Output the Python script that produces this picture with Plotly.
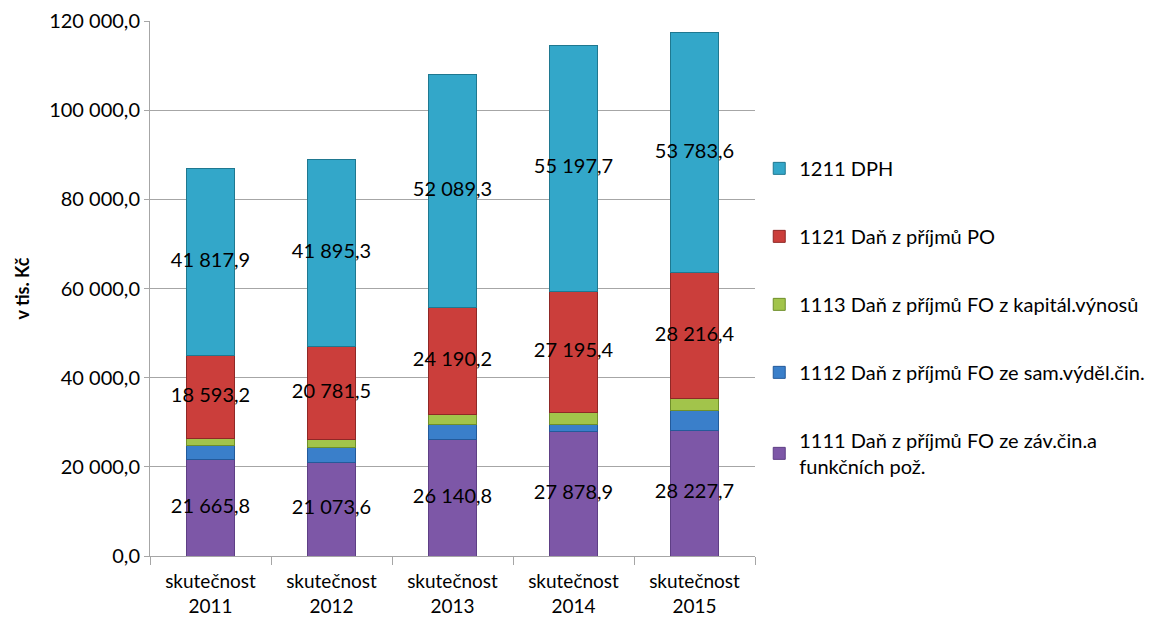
import plotly.graph_objects as go

categories = ["skutečnost<br>2011", "skutečnost<br>2012", "skutečnost<br>2013", "skutečnost<br>2014", "skutečnost<br>2015"]

s1111 = [21665.8, 21073.6, 26140.8, 27878.9, 28227.7]
s1112 = [3100, 3200, 3300, 1700, 4300]
s1113 = [1700, 1900, 2200, 2600, 2800]
s1121 = [18593.2, 20781.5, 24190.2, 27195.4, 28216.4]
s1211 = [41817.9, 41895.3, 52089.3, 55197.7, 53783.6]

names = [
    "1111 Daň z příjmů FO ze záv.čin.a<br>funkčních pož.",
    "1112 Daň z příjmů FO ze sam.výděl.čin.",
    "1113 Daň z příjmů FO z kapitál.výnosů",
    "1121 Daň z příjmů PO",
    "1211 DPH",
]
series = [s1111, s1112, s1113, s1121, s1211]
colors = ["#7D57A7", "#3A7FCA", "#A2C44B", "#CB3E3B", "#33A7C9"]
outlines = ["#5E3F85", "#245A9A", "#6F8F2A", "#8F2826", "#1F7890"]
labelled = [True, False, False, True, True]

FONT = "Lato, 'Open Sans', sans-serif"

fig = go.Figure()
base = [0.0] * len(categories)
for i, (vals, name) in enumerate(zip(series, names)):
    fig.add_trace(go.Bar(
        x=categories, y=vals, name=name,
        marker=dict(color=colors[i], line=dict(color=outlines[i], width=1)),
        legendgroup=str(i), legendrank=len(series) - i,
    ))
    if labelled[i]:
        mids = [b + v / 2 for b, v in zip(base, vals)]
        fig.add_trace(go.Scatter(
            x=categories, y=mids, mode="text",
            text=[f"{v:,.1f}".replace(",", " ").replace(".", ",") for v in vals],
            textfont=dict(family=FONT, size=20, color="#000000"),
            showlegend=False, hoverinfo="skip",
        ))
    base = [b + v for b, v in zip(base, vals)]

fig.update_layout(
    barmode="stack",
    bargap=0.6,
    width=1168, height=623,
    margin=dict(l=150, r=413, t=21, b=67, autoexpand=False),
    paper_bgcolor="white", plot_bgcolor="white",
    separators=", ",
    font=dict(family=FONT, size=20, color="#000000"),
    showlegend=True,
    legend=dict(
        x=1.007, xanchor="left", y=0.761, yanchor="top",
        traceorder="grouped", tracegroupgap=39,
        font=dict(family=FONT, size=20, color="#000000"),
        bgcolor="rgba(0,0,0,0)",
    ),
)
fig.update_yaxes(
    range=[0, 120000], dtick=20000, tickformat=",.1f",
    showgrid=True, gridcolor="#A6A6A6", gridwidth=1,
    showline=True, linecolor="#A6A6A6", linewidth=1,
    ticks="outside", ticklen=5, tickcolor="#A6A6A6",
    tickfont=dict(family=FONT, size=20, color="#000000"),
    zeroline=False, automargin=False,
    title=dict(text="<b>v tis. Kč</b>", font=dict(family=FONT, size=18, color="#000000"), standoff=14),
)
fig.update_xaxes(
    showline=True, linecolor="#A6A6A6", linewidth=1,
    ticks="outside", ticklen=8, tickcolor="#A6A6A6", tickson="boundaries",
    tickfont=dict(family=FONT, size=19, color="#000000"),
    ticklabelstandoff=8,
    showgrid=False, automargin=False,
)

fig.write_html("out.html")
